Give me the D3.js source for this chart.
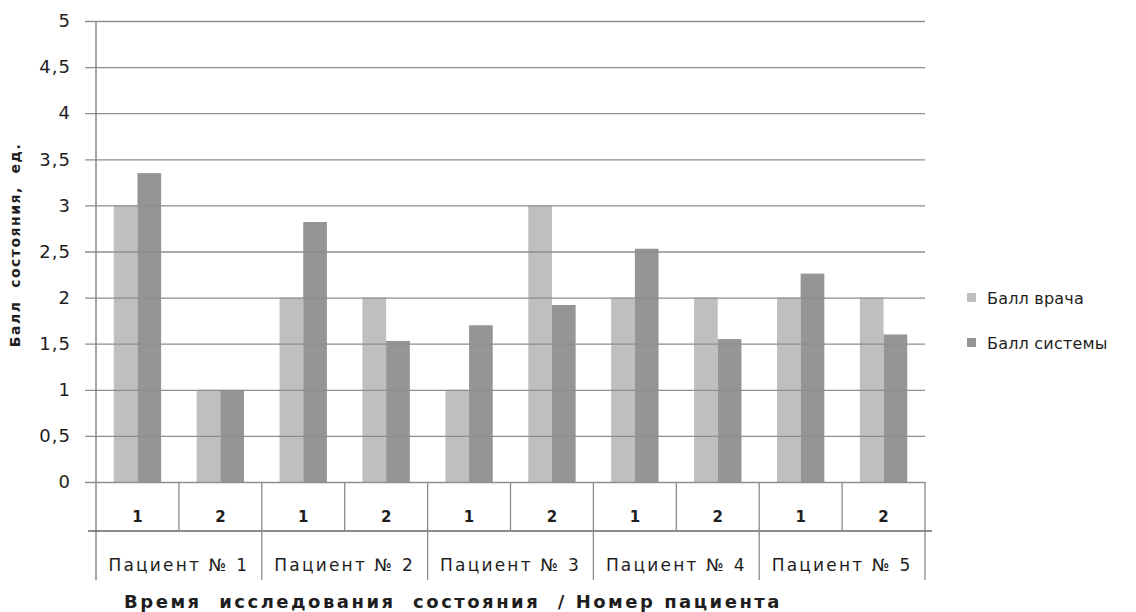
<!DOCTYPE html>
<html>
<head>
<meta charset="utf-8">
<script src="https://cdn.jsdelivr.net/npm/d3@7"></script>
<style>
  body { margin: 0; background: #fff; }
  svg text { font-family: "DejaVu Sans", Verdana, sans-serif; fill: #1e1e1e; }
</style>
</head>
<body>
<svg id="chart" width="1136" height="612"></svg>
<script>
// ---- data ----
const patients = ["Пациент № 1", "Пациент № 2", "Пациент № 3", "Пациент № 4", "Пациент № 5"];
const times = ["1", "2"];
const seriesNames = ["Балл врача", "Балл системы"];
const doctorScores = [3, 1, 2, 2, 1, 3, 2, 2, 2, 2];
const systemScores = [3.35, 1, 2.82, 1.53, 1.7, 1.92, 2.53, 1.55, 2.26, 1.6];
const yTicks = [0, 0.5, 1, 1.5, 2, 2.5, 3, 3.5, 4, 4.5, 5];

const COLORS = { doctor: "#bfbfbf", system: "#959595", grid: "#8e8e8e", axis: "#8a8a8a" };

// rows for the 10 categories (patient x time)
const rows = [];
patients.forEach((p, pi) => {
  times.forEach((t, ti) => {
    const i = pi * times.length + ti;
    rows.push({ id: i, patient: p, time: t, values: [doctorScores[i], systemScores[i]] });
  });
});

const svg = d3.select("#chart");
const plotL = 96, plotR = 925, plotT = 21, plotB = 482;

const x = d3.scaleBand().domain(rows.map(d => d.id)).range([plotL, plotR]);
const xSub = d3.scaleBand().domain([0, 1]).range([0, x.bandwidth()])
  .paddingInner(0).paddingOuter(0.75);
const y = d3.scaleLinear().domain([0, 5]).range([plotB, plotT]);
const fmt = v => String(v).replace(".", ",");

// ---- bars ----
const groups = svg.append("g").selectAll("g")
  .data(rows).enter().append("g")
  .attr("transform", d => `translate(${x(d.id)},0)`);

groups.selectAll("rect")
  .data(d => d.values.map((v, k) => ({ v, k })))
  .enter().append("rect")
  .attr("x", d => xSub(d.k))
  .attr("width", xSub.bandwidth())
  .attr("y", d => y(d.v))
  .attr("height", d => y(0) - y(d.v))
  .attr("fill", d => d.k === 0 ? COLORS.doctor : COLORS.system);

// ---- gridlines + y axis ----
const yAxis = d3.axisLeft(y).tickValues(yTicks).tickFormat(fmt)
  .tickSize(-(plotR - plotL)).tickPadding(14);
const yg = svg.append("g").attr("transform", `translate(${plotL},0)`).call(yAxis);
yg.select(".domain").remove();
yg.selectAll(".tick line")
  .attr("x1", -11)
  .attr("stroke", COLORS.grid).attr("stroke-width", 1.3);
yg.selectAll(".tick text")
  .attr("x", -25)
  .attr("font-size", 18)
  .attr("letter-spacing", 1)
  .attr("fill", "#1e1e1e");

svg.append("line")
  .attr("x1", plotL).attr("x2", plotL)
  .attr("y1", plotT).attr("y2", 580)
  .attr("stroke", COLORS.axis).attr("stroke-width", 1.5);

// ---- category table ----
const row1 = 531, row2 = 580;
const tbl = svg.append("g").attr("stroke", COLORS.axis).attr("stroke-width", 1.3);

tbl.append("line").attr("x1", 88).attr("x2", 932)
  .attr("y1", row1).attr("y2", row1).attr("stroke", "#666").attr("stroke-width", 1.6);

rows.forEach((d, i) => {
  const xb = x(d.id) + x.bandwidth();
  const isGroupEnd = (i + 1) % times.length === 0;
  tbl.append("line").attr("x1", xb).attr("x2", xb)
    .attr("y1", plotB).attr("y2", isGroupEnd ? row2 : row1);
});

svg.append("g").selectAll("text")
  .data(rows).enter().append("text")
  .attr("x", d => x(d.id) + x.bandwidth() / 2)
  .attr("y", 522)
  .attr("text-anchor", "middle")
  .attr("font-size", 15)
  .attr("font-weight", "bold")
  .text(d => d.time);

svg.append("g").selectAll("text")
  .data(patients).enter().append("text")
  .attr("x", (p, pi) => (x(pi * 2) + x(pi * 2 + 1) + x.bandwidth()) / 2)
  .attr("y", 571)
  .attr("text-anchor", "middle")
  .attr("font-size", 17)
  .attr("letter-spacing", 2.2)
  .text(p => p);

// ---- axis titles ----
svg.append("text")
  .attr("x", 453).attr("y", 608)
  .attr("text-anchor", "middle")
  .attr("font-size", 18).attr("font-weight", "bold")
  .attr("letter-spacing", 2.5)
  .attr("xml:space", "preserve")
  .text("Время  исследования  состояния  / Номер пациента");

svg.append("text")
  .attr("transform", "translate(20,245) rotate(-90)")
  .attr("text-anchor", "middle")
  .attr("font-size", 14).attr("font-weight", "bold")
  .attr("letter-spacing", 1.5)
  .attr("xml:space", "preserve")
  .text("Балл  состояния,  ед.");

// ---- legend ----
const legend = svg.append("g").attr("transform", "translate(967,298)");
seriesNames.forEach((name, k) => {
  const g = legend.append("g").attr("transform", `translate(0,${k * 45})`);
  g.append("rect").attr("x", 0).attr("y", -5).attr("width", 9).attr("height", 9)
    .attr("fill", k === 0 ? COLORS.doctor : COLORS.system);
  g.append("text").attr("x", 20).attr("y", 6).attr("font-size", 16)
    .attr("letter-spacing", 0.2).text(name);
});
</script>
</body>
</html>
